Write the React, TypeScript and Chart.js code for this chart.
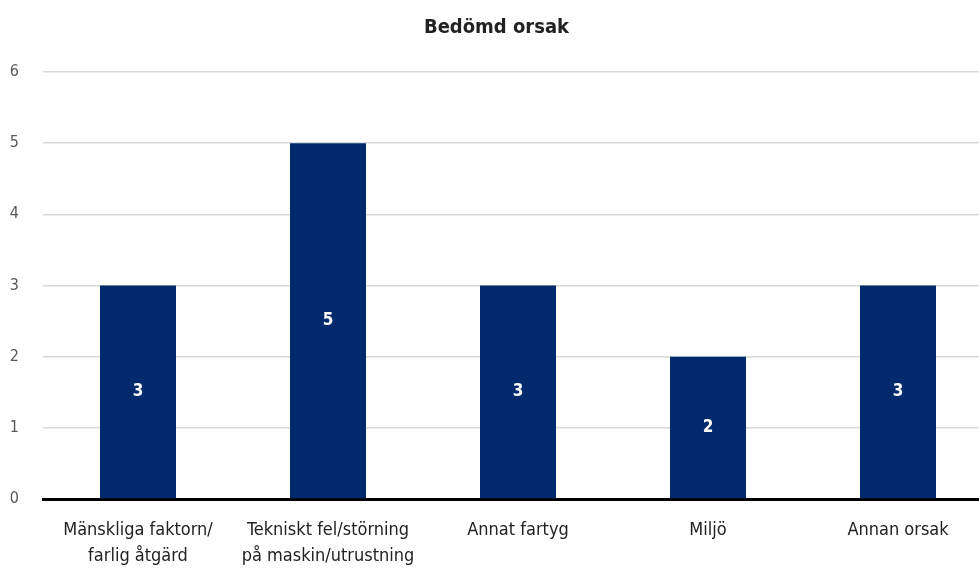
import React, { useEffect, useRef } from "react";
import { Chart, registerables } from "chart.js";

Chart.register(...registerables);

const title = "Bedömd orsak";
const categories: string[][] = [
  ["Mänskliga faktorn/", "farlig åtgärd"],
  ["Tekniskt fel/störning", "på maskin/utrustning"],
  ["Annat fartyg"],
  ["Miljö"],
  ["Annan orsak"],
];
const values: number[] = [3, 5, 3, 2, 3];
const yTicks: number[] = [0, 1, 2, 3, 4, 5, 6];

const FONT = '"Liberation Sans Narrow", "DejaVu Sans Condensed", "Roboto Condensed", sans-serif';

const barLabels = {
  id: "barLabels",
  afterDatasetsDraw(chart: any) {
    const ctx = chart.ctx;
    const meta = chart.getDatasetMeta(0);
    ctx.save();
    ctx.fillStyle = "#ffffff";
    ctx.font = `bold 17px ${FONT}`;
    ctx.textAlign = "center";
    ctx.textBaseline = "middle";
    meta.data.forEach((bar: any, i: number) => {
      const v = chart.data.datasets[0].data[i];
      const y = (bar.y + bar.base) / 2;
      ctx.fillText(String(v), bar.x, y);
    });
    ctx.restore();
  },
};

export default function App() {
  const ref = useRef<HTMLCanvasElement | null>(null);
  useEffect(() => {
    if (!ref.current) return;
    const chart = new Chart(ref.current, {
      type: "bar",
      data: {
        labels: categories,
        datasets: [
          {
            data: values,
            backgroundColor: "#002a6c",
            barPercentage: 0.4,
            categoryPercentage: 1,
          },
        ],
      },
      options: {
        responsive: false,
        animation: false,
        layout: { padding: { left: 0, right: 0, top: 6, bottom: 0 } },
        plugins: {
          legend: { display: false },
          tooltip: { enabled: false },
          title: {
            display: true,
            text: title,
            color: "#222222",
            font: { family: FONT, size: 20, weight: "bold" },
            padding: { top: 10, bottom: 32 },
          },
        },
        scales: {
          x: {
            afterFit: (axis: any) => {
              axis.height = 70;
            },
            grid: { display: false },
            border: { display: true, color: "#000000", width: 3 },
            ticks: {
              color: "#222222",
              font: { family: FONT, size: 18, lineHeight: 1.45 },
              padding: 10,
              maxRotation: 0,
              autoSkip: false,
            },
          },
          y: {
            min: 0,
            max: 6,
            afterFit: (axis: any) => {
              axis.width = 43;
            },
            afterBuildTicks: (axis: any) => {
              axis.ticks = yTicks.map((v) => ({ value: v }));
            },
            grid: { color: "#d9d9d9", lineWidth: 1.5, drawTicks: false },
            border: { display: false },
            ticks: {
              color: "#595959",
              font: { family: FONT, size: 16 },
              padding: 24,
            },
          },
        },
      },
      plugins: [barLabels],
    });
    return () => chart.destroy();
  }, []);
  return (
    <div
      style={{
        position: "fixed",
        left: 0,
        top: 0,
        width: 979,
        height: 569,
        overflow: "hidden",
        background: "#ffffff",
      }}
    >
      <canvas ref={ref} width={993} height={569} style={{ display: "block" }} />
    </div>
  );
}
